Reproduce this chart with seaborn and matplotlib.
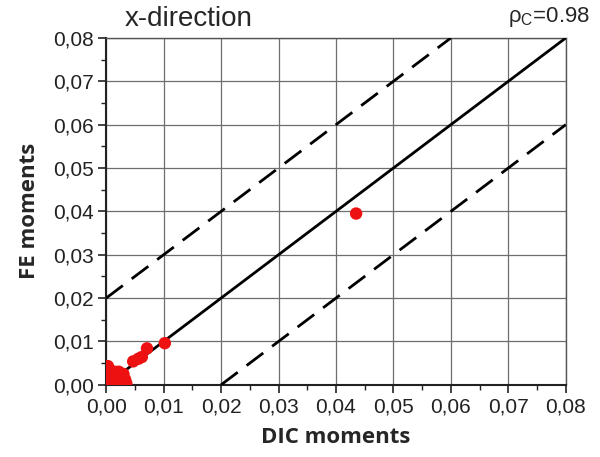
import matplotlib
matplotlib.use("Agg")
import matplotlib.pyplot as plt
import seaborn as sns
import numpy as np
import pandas as pd
from matplotlib.ticker import MultipleLocator, FuncFormatter

# DIC vs FE moments (x-direction)
dic_moments = [0.0435, 0.0102, 0.0071, 0.0062, 0.0056, 0.0047,
               0.0003, 0.0006, 0.0010, 0.0015, 0.0020, 0.0025, 0.0030,
               0.0004, 0.0008, 0.0012, 0.0018, 0.0022, 0.0028, 0.0005,
               0.0002, 0.0016, 0.0033, 0.0035]
fe_moments = [0.0395, 0.0096, 0.0084, 0.0064, 0.0060, 0.0054,
              0.0043, 0.0035, 0.0025, 0.0030, 0.0022, 0.0015, 0.0025,
              0.0010, 0.0005, 0.0012, 0.0008, 0.0030, 0.0005, 0.0020,
              0.0002, 0.0018, 0.0012, 0.0003]
ref_line = [0.0, 0.08]
band_offset = 0.02
ticks = [0.0, 0.01, 0.02, 0.03, 0.04, 0.05, 0.06, 0.07, 0.08]
rho_c = 0.98

df = pd.DataFrame({"DIC": dic_moments, "FE": fe_moments})

sns.set_style("white")
plt.rcParams["font.family"] = ["Liberation Sans", "DejaVu Sans"]

fig = plt.figure(figsize=(6.0, 4.57), dpi=100)
ax = fig.add_axes([0.177, 0.158, 0.766, 0.759])

# 1:1 line and +/- band
ax.plot(ref_line, ref_line, color="black", lw=2.0, zorder=3)
x_up = np.array([0.0, 0.08 - band_offset])
ax.plot(x_up, x_up + band_offset, color="black", lw=2.0,
        dashes=(7.5, 4), zorder=3)
x_dn = np.array([band_offset, 0.08])
ax.plot(x_dn, x_dn - band_offset, color="black", lw=2.0,
        dashes=(7.5, 4), zorder=3)

sns.scatterplot(data=df, x="DIC", y="FE", ax=ax, color="#ee1111",
                s=80, edgecolor="none", zorder=4, clip_on=True)

ax.set_xlim(0, 0.08)
ax.set_ylim(0, 0.08)
ax.set_xticks(ticks)
ax.set_yticks(ticks)
ax.xaxis.set_minor_locator(MultipleLocator(0.005))
ax.yaxis.set_minor_locator(MultipleLocator(0.005))
fmt = FuncFormatter(lambda v, p: f"{v:.2f}".replace(".", ","))
ax.xaxis.set_major_formatter(fmt)
ax.yaxis.set_major_formatter(fmt)

ax.grid(True, which="major", color="#6e6e6e", lw=0.9, zorder=0)
ax.set_axisbelow(True)
for side in ["top", "right"]:
    ax.spines[side].set_color("#555555")
    ax.spines[side].set_linewidth(1.0)
for side in ["left", "bottom"]:
    ax.spines[side].set_color("#222222")
    ax.spines[side].set_linewidth(1.5)

ax.tick_params(which="major", direction="out", length=6, width=1.2,
               labelsize=15, colors="#222222", bottom=True, left=True,
               pad=3)
ax.tick_params(which="minor", direction="out", length=3.5, width=1.0,
               colors="#222222", bottom=True, left=True)

ax.set_xlabel("DIC moments", fontsize=16, fontweight="bold",
              family=["Open Sans", "DejaVu Sans"], labelpad=8)
ax.set_ylabel("FE moments", fontsize=16, fontweight="bold",
              family=["Open Sans", "DejaVu Sans"], labelpad=9)

fig.text(0.208, 0.958, "x-direction", fontsize=20, ha="left", va="center")
fig.text(0.983, 0.962, r"$\mathregular{ρ_C}$=" + f"{rho_c:.2f}",
         fontsize=16, ha="right", va="center")

fig.savefig("out.png", dpi=100)
